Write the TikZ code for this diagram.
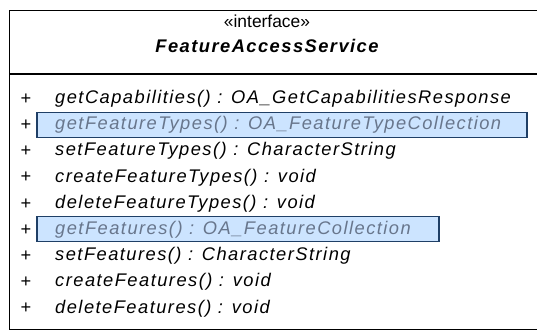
\documentclass[tikz,border=0pt]{standalone}
\usepackage{fontspec}
\usepackage{tikz}
\usetikzlibrary{positioning}
\newfontfamily\umlfont{Liberation Sans}
\newfontfamily\umlopfont{Liberation Sans}[LetterSpace=8]
\definecolor{hlfill}{RGB}{204,228,255}
\definecolor{hldraw}{RGB}{31,63,102}
\definecolor{hltext}{RGB}{104,118,140}

\begin{document}
\begin{tikzpicture}[
			x=1pt, y=-1pt,
			font=\umlfont\fontsize{17.4}{20}\selectfont,
			frame/.style={draw, line width=1.5pt},
			plus/.style={inner sep=0pt, anchor=center, font=\umlfont\fontsize{18.3}{20}\selectfont},
			op/.style={anchor=west, inner xsep=0pt, inner ysep=4.4pt, text height=13pt, text depth=4pt, font=\umlopfont\itshape\fontsize{18.3}{20}\selectfont},
			hl/.style={fill=hlfill, draw=hldraw, line width=1.1pt}
			]
			\useasboundingbox (0,0) rectangle (537,331);
			\draw[frame] (9.5,10.5) rectangle (580,329.5);
			\draw[frame] (9.5,74) -- (580,74);
			\node (stereo) at (267,21) {«interface»};
			\node[below=5pt of stereo, font=\umlopfont\bfseries\itshape\fontsize{18.3}{20}\selectfont] (name) {FeatureAccessService};
			% highlighted rows
			\draw[hl] (37,112.5) rectangle (527,137.5);
			\draw[hl] (37,216.5) rectangle (439,241.5);
			% operations
			\node[op] (op1) at (55,99) {getCapabilities() : OA\_GetCapabilitiesResponse};
			\node[op, below=0pt of op1.south west, anchor=north west, text=hltext] (op2) {getFeatureTypes() : OA\_FeatureTypeCollection};
			\node[op, below=0pt of op2.south west, anchor=north west] (op3) {setFeatureTypes() : CharacterString};
			\node[op, below=0pt of op3.south west, anchor=north west] (op4) {createFeatureTypes() : void};
			\node[op, below=0pt of op4.south west, anchor=north west] (op5) {deleteFeatureTypes() : void};
			\node[op, below=0pt of op5.south west, anchor=north west, text=hltext] (op6) {getFeatures() : OA\_FeatureCollection};
			\node[op, below=0pt of op6.south west, anchor=north west] (op7) {setFeatures() : CharacterString};
			\node[op, below=0pt of op7.south west, anchor=north west] (op8) {createFeatures() : void};
			\node[op, below=0pt of op8.south west, anchor=north west] (op9) {deleteFeatures() : void};
			\foreach \i in {1,...,9}
				\node[plus] (plus\i) at ([xshift=-29pt]op\i.west) {+};
		\end{tikzpicture}
\end{document}
